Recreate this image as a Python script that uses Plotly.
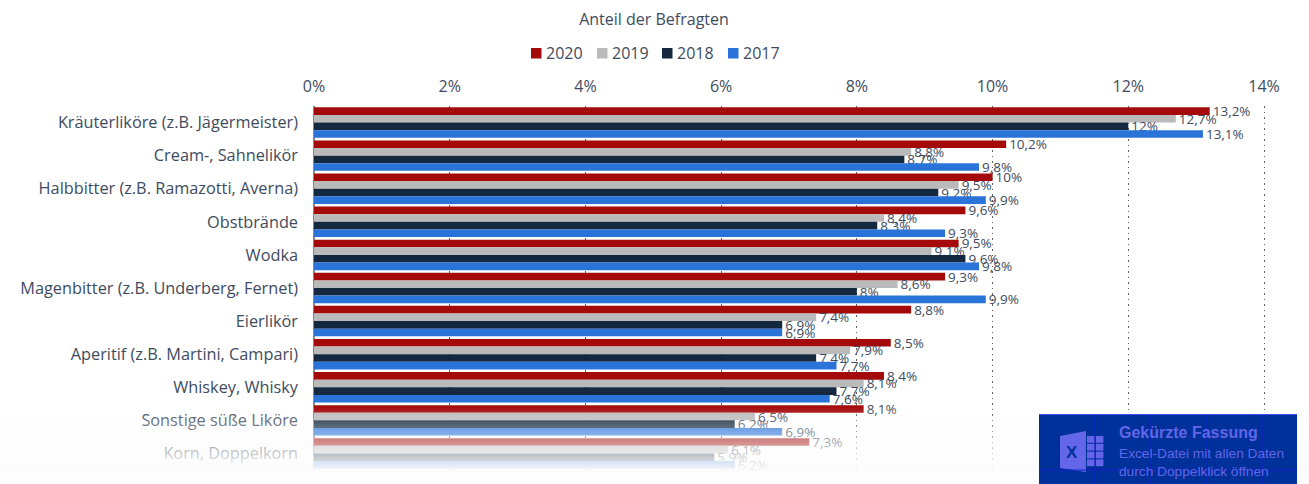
import plotly.graph_objects as go

categories = ["Kräuterliköre (z.B. Jägermeister)", "Cream-, Sahnelikör", "Halbbitter (z.B. Ramazotti, Averna)",
              "Obstbrände", "Wodka", "Magenbitter (z.B. Underberg, Fernet)", "Eierlikör",
              "Aperitif (z.B. Martini, Campari)", "Whiskey, Whisky", "Sonstige süße Liköre", "Korn, Doppelkorn"]
v2020 = [13.2, 10.2, 10, 9.6, 9.5, 9.3, 8.8, 8.5, 8.4, 8.1, 7.3]
v2019 = [12.7, 8.8, 9.5, 8.4, 9.1, 8.6, 7.4, 7.9, 8.1, 6.5, 6.1]
v2018 = [12, 8.7, 9.2, 8.3, 9.6, 8, 6.9, 7.4, 7.7, 6.2, 5.9]
v2017 = [13.1, 9.8, 9.9, 9.3, 9.8, 9.9, 6.9, 7.7, 7.6, 6.9, 6.2]
tick_vals = [0, 2, 4, 6, 8, 10, 12, 14]
tick_text = ["0%", "2%", "4%", "6%", "8%", "10%", "12%", "14%"]
series = [("2020", v2020, "#a50a0a"), ("2019", v2019, "#bababa"),
          ("2018", v2018, "#14293f"), ("2017", v2017, "#2a74d9")]

W, H = 1309, 484
L, R, T, B = 314, 1266, 106, 470
XMAX = 14 * (R - L) / 950
TXT = "#3e4b5e"
FONT = "Open Sans"

def px(x):
    return (x - L) / (R - L)

def py(y):
    return 1 - (y - T) / (B - T)

def fmt(v):
    return f"{v:g}".replace(".", ",") + "%"

fig = go.Figure()
for name, vals, col in series:
    fig.add_bar(y=categories, x=vals, name=name, orientation="h", marker_color=col, marker_line_width=0,
                text=[fmt(v) for v in vals], textposition="outside", cliponaxis=False, constraintext="none",
                textfont=dict(family=FONT, size=13.5, color=TXT), showlegend=False)

shapes = []
annotations = []
# Legend row
for (name, vals, col), lx in zip(series, (531, 597, 662, 728)):
    shapes.append(dict(type="rect", xref="paper", yref="paper", x0=px(lx), x1=px(lx + 10.5),
                       y0=py(48), y1=py(58.5), line_width=0, fillcolor=col, layer="above"))
    annotations.append(dict(text=name, x=px(lx + 13), y=py(53), xref="paper", yref="paper", showarrow=False,
                            xanchor="left", yanchor="middle", font=dict(family=FONT, size=16, color=TXT)))
# Fade-out over the bottom of the chart
y0, y1 = 406, 472
n = 33
for i in range(n):
    a = y0 + (y1 - y0) * i / n
    b = y0 + (y1 - y0) * (i + 1) / n
    t = (i + 0.5) / n
    shapes.append(dict(type="rect", xref="paper", yref="paper", x0=px(0), x1=px(W),
                       y0=py(a), y1=py(b), line_width=0, layer="above",
                       fillcolor=f"rgba(252,252,252,{0.98 * t:.3f})"))
shapes.append(dict(type="rect", xref="paper", yref="paper", x0=px(0), x1=px(W), y0=py(y1), y1=py(H),
                   line_width=0, layer="above", fillcolor="#fdfdfd"))
# Excel badge
shapes.append(dict(type="rect", xref="paper", yref="paper", x0=px(1039), x1=px(1297), y0=py(414), y1=py(484),
                   line_width=0, layer="above", fillcolor="#00309a"))
shapes.append(dict(type="line", xref="paper", yref="paper", x0=px(1039), x1=px(1297), y0=py(414.5), y1=py(414.5),
                   line=dict(color="#3d4ff0", width=1), layer="above"))
# Excel icon
ICON = "#6366e8"
pts = [(1060, 436), (1086, 431), (1086, 472), (1060, 468)]
path = "M " + " L ".join(f"{px(x):.5f},{py(y):.5f}" for x, y in pts) + " Z"
shapes.append(dict(type="path", xref="paper", yref="paper", path=path, fillcolor=ICON, line_width=0, layer="above"))
for r in range(4):
    for c in range(2):
        shapes.append(dict(type="rect", xref="paper", yref="paper",
                           x0=px(1087 + c * 8.7), x1=px(1094.7 + c * 8.7),
                           y0=py(436 + r * 7.8), y1=py(442.8 + r * 7.8),
                           line_width=0, fillcolor=ICON, layer="above"))
for gx in (1095, 1151, 1206, 1262):
    shapes.append(dict(type="line", xref="paper", yref="paper", x0=px(gx), x1=px(gx), y0=py(415), y1=py(484),
                       line=dict(color="#1420c8", width=1), layer="above"))
shapes.append(dict(type="line", xref="paper", yref="paper", x0=px(1039), x1=px(1297), y0=py(470), y1=py(470),
                   line=dict(color="#1420c8", width=1), layer="above"))

BADGE = "#6366e8"
annotations += [
    dict(text="<b>X</b>", x=px(1072), y=py(452), xref="paper", yref="paper", showarrow=False,
         font=dict(family="Liberation Sans", size=17, color="#00309a"), xanchor="center", yanchor="middle"),
    dict(text="<b>Gekürzte Fassung</b>", x=px(1117), y=py(432), xref="paper", yref="paper", showarrow=False,
         font=dict(family="Liberation Sans", size=16, color=BADGE), xanchor="left", yanchor="middle"),
    dict(text="Excel-Datei mit allen Daten", x=px(1117), y=py(453), xref="paper", yref="paper", showarrow=False,
         font=dict(family="Liberation Sans", size=13.7, color=BADGE), xanchor="left", yanchor="middle"),
    dict(text="durch Doppelklick öffnen", x=px(1117), y=py(471), xref="paper", yref="paper", showarrow=False,
         font=dict(family="Liberation Sans", size=13.7, color=BADGE), xanchor="left", yanchor="middle"),
]

fig.update_layout(
    width=W, height=H, margin=dict(l=L, r=W - R, t=T, b=H - B),
    paper_bgcolor="white", plot_bgcolor="white", separators=",.",
    barmode="group", bargap=0.08, bargroupgap=0,
    font=dict(family=FONT, color=TXT, size=14),
    title=dict(text="Anteil der Befragten", x=654 / W, xanchor="center", y=1 - 19 / H, yanchor="middle",
               font=dict(family=FONT, size=16, color=TXT)),
    showlegend=False,
    xaxis=dict(side="top", range=[0, XMAX], tickvals=tick_vals, ticktext=tick_text, showgrid=True,
               gridcolor="#5f5f5f", griddash="1.5px,4px", gridwidth=1, zeroline=True, zerolinecolor="#888888",
               zerolinewidth=1.5, ticks="", showline=False, ticklabelstandoff=10,
               tickfont=dict(family=FONT, size=16, color=TXT), automargin=False),
    yaxis=dict(autorange="reversed", ticks="", showline=False, automargin=False, ticklabelstandoff=15,
               tickfont=dict(family=FONT, size=16.3, color=TXT)),
    shapes=shapes, annotations=annotations,
)
fig.write_html("out.html", config={"displayModeBar": False},
               post_script="document.body.style.margin='0';document.body.style.overflow='hidden';")
